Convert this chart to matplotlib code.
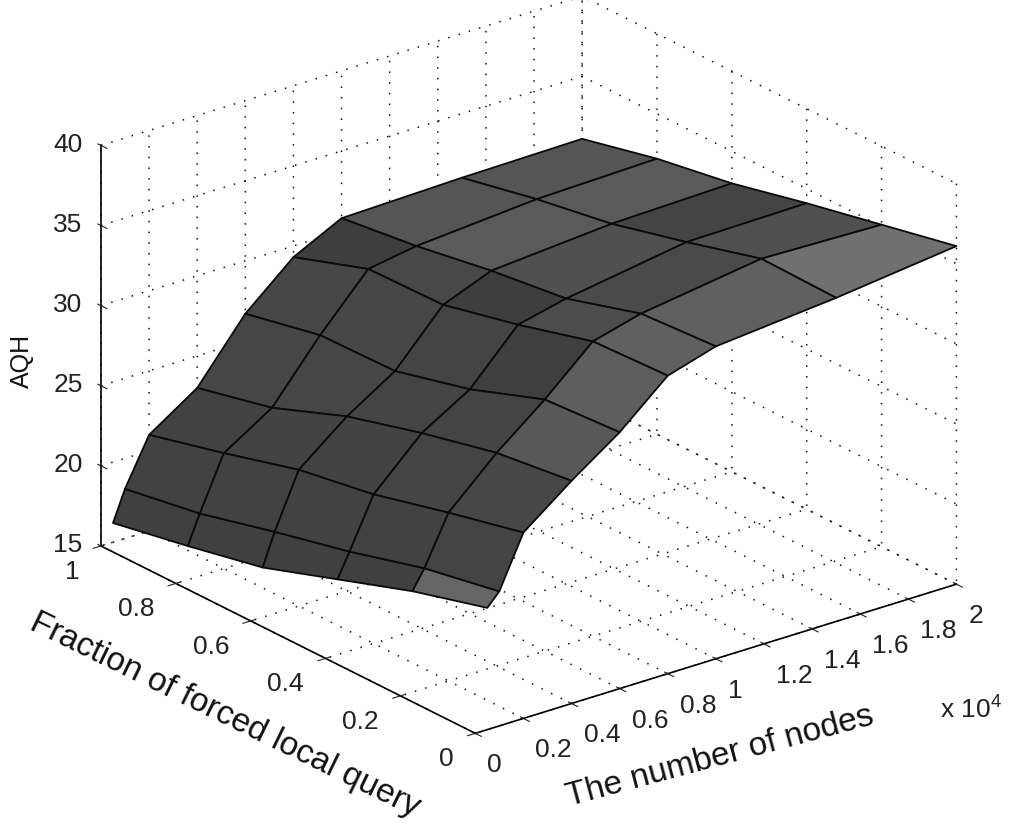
import numpy as np
import matplotlib
matplotlib.use("Agg")
import matplotlib.pyplot as plt

nodes = [500, 1000, 2000, 4000, 6000, 8000, 10000, 15000, 20000]
fractions = [1.0, 0.8, 0.6, 0.4, 0.2, 0.0]

# AQH, one row per node count, one column per fraction
aqh = [
    [16.2, 17.1, 18.1, 19.7, 21.3, 22.6],
    [18.1, 18.9, 20.1, 21.2, 22.5, 23.4],
    [21.0, 22.2, 23.5, 24.3, 25.5, 26.6],
    [23.0, 24.1, 25.9, 27.2, 28.3, 28.9],
    [26.7, 27.7, 27.8, 29.0, 30.7, 31.0],
    [29.3, 30.9, 31.0, 32.1, 33.4, 33.6],
    [30.8, 31.4, 32.2, 32.8, 34.2, 34.5],
    [31.0, 32.0, 32.8, 34.0, 35.3, 35.2],
    [31.1, 32.2, 33.0, 34.1, 35.1, 36.1],
]

# grey level of every facet
facet_grey = [
    [0x40, 0x40, 0x40, 0x40, 0x66],
    [0x42, 0x42, 0x42, 0x42, 0x44],
    [0x42, 0x43, 0x43, 0x44, 0x47],
    [0x46, 0x46, 0x44, 0x44, 0x58],
    [0x47, 0x47, 0x44, 0x3f, 0x5e],
    [0x3e, 0x48, 0x3e, 0x4c, 0x60],
    [0x55, 0x5a, 0x50, 0x4a, 0x60],
    [0x55, 0x5a, 0x44, 0x50, 0x70],
]

x_ticks = [0, 2000, 4000, 6000, 8000, 10000, 12000, 14000, 16000, 18000, 20000]
x_labels = ["0", "0.2", "0.4", "0.6", "0.8", "1", "1.2", "1.4", "1.6", "1.8", "2"]
y_ticks = [0, 0.2, 0.4, 0.6, 0.8, 1]
y_labels = ["0", "0.2", "0.4", "0.6", "0.8", "1"]
z_ticks = [15, 20, 25, 30, 35, 40]
z_labels = ["15", "20", "25", "30", "35", "40"]

plt.rcParams["font.family"] = ["Liberation Sans", "DejaVu Sans"]
plt.rcParams["mathtext.default"] = "regular"
plt.rcParams["grid.color"] = "#111111"
plt.rcParams["grid.linewidth"] = 1.1
plt.rcParams["grid.linestyle"] = (0, (1, 6))

fig = plt.figure(figsize=(10.24, 8.29), dpi=100)
ax = fig.add_axes([103 / 1024, (829 - 377 - 414.5) / 829, 829 / 1024, 1.0],
                  projection="3d", proj_type="ortho")
ax.view_init(elev=23.2, azim=-128.2)
ax.set_box_aspect((614, 607, 437), zoom=1.13)

X, Y = np.meshgrid(nodes, fractions, indexing="ij")
Z = np.array(aqh)
grey = np.array(facet_grey) / 255.0
colors = np.zeros(Z.shape + (4,))
colors[:-1, :-1, 0] = grey
colors[:-1, :-1, 1] = grey
colors[:-1, :-1, 2] = grey
colors[..., 3] = 1.0
surf = ax.plot_surface(X, Y, Z, rstride=1, cstride=1, facecolors=colors, shade=False,
                       edgecolor="#0a0a0a", linewidth=1.3)
surf.set_clip_on(False)

ax.set_xlim(0, 20000, view_margin=0)
ax.set_ylim(0, 1, view_margin=0)
ax.set_zlim(15, 40, view_margin=0)
ax.set_xticks(x_ticks, x_labels, ha="left")
ax.set_yticks(y_ticks, y_labels, ha="right", va="center")
ax.set_zticks(z_ticks, z_labels, va="center")
# z ticks point along the fraction axis, as in the original
ax.zaxis._get_tickdir = lambda pos: 1

for axis in (ax.xaxis, ax.yaxis, ax.zaxis):
    axis.set_pane_color((1, 1, 1, 0))
    axis.pane.set_edgecolor((1, 1, 1, 0))
    axis.line.set_color("black")
    axis.line.set_linewidth(1.2)
ax.tick_params(labelsize=19, colors="#222222")
ax.xaxis.set_tick_params(pad=2)
ax.yaxis.set_tick_params(pad=6)
ax.zaxis.set_tick_params(pad=4)

fig.text(720 / 1024, 1 - 757 / 829, "The number of nodes", fontsize=24, color="#111111",
         rotation=15, rotation_mode="anchor", ha="center", va="center")
fig.text(225 / 1024, 1 - 715 / 829, "Fraction of forced local query", fontsize=24, color="#111111",
         rotation=-26, rotation_mode="anchor", ha="center", va="center")
fig.text(22 / 1024, 1 - 361 / 829, "AQH", fontsize=18, color="#111111",
         rotation=90, rotation_mode="anchor", ha="center", va="center")
fig.text(940 / 1024, 1 - 719 / 829, r"x 10$^{4}$", fontsize=19, color="#222222", va="baseline")

fig.savefig("out.png", dpi=100, facecolor="white")
